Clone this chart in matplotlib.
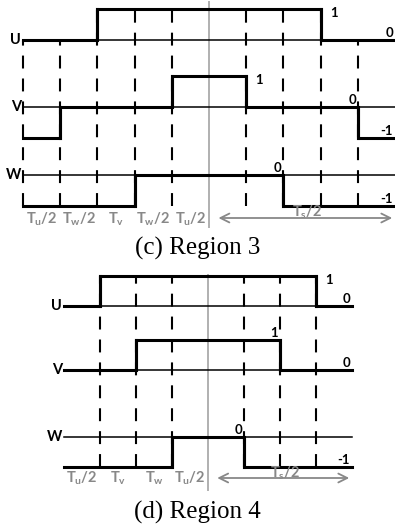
import matplotlib
matplotlib.use("Agg")
import matplotlib.pyplot as plt

plt.rcParams["font.family"] = ["Lato", "DejaVu Sans"]
plt.rcParams["mathtext.fontset"] = "custom"
plt.rcParams["mathtext.rm"] = "Lato:bold"
plt.rcParams["mathtext.it"] = "Lato:bold"
plt.rcParams["mathtext.bf"] = "Lato:bold"

phases = ["U", "V", "W"]

# Region 3: switching states per time slot (10 slots)
r3_U = [0, 0, 1, 1, 1, 1, 1, 1, 0, 0]
r3_V = [-1, 0, 0, 0, 1, 1, 0, 0, 0, -1]
r3_W = [-1, -1, -1, 0, 0, 0, 0, -1, -1, -1]
r3_slot_labels = [r"$T_u/2$", r"$T_w/2$", r"$T_v$", r"$T_w/2$", r"$T_u/2$"]
r3_mid = 5  # slot boundary of the half period

# Region 4: switching states per time slot (8 slots)
r4_U = [0, 1, 1, 1, 1, 1, 1, 0]
r4_V = [0, 0, 1, 1, 1, 1, 0, 0]
r4_W = [-1, -1, -1, 0, 0, -1, -1, -1]
r4_slot_labels = [r"$T_u/2$", r"$T_v$", r"$T_w$", r"$T_u/2$"]
r4_mid = 4

# level annotations: (phase, slot edge, level, text, side of the edge)
r3_notes = [(0, 8, 1, "1", "r"), (0, 10, 0, "0", "l"), (1, 6, 1, "1", "r"),
            (1, 9, 0, "0", "l"), (1, 10, -1, "-1", "l"), (2, 7, 0, "0", "l"),
            (2, 10, -1, "-1", "l")]
r4_notes = [(0, 7, 1, "1", "r"), (0, 8, 0, "0", "l"), (1, 6, 1, "1", "l"),
            (1, 8, 0, "0", "l"), (2, 5, 0, "0", "l"), (2, 8, -1, "-1", "l")]

GRAY = "#888888"
DASH = (0, (6.2, 4.8))


def steps(levels):
    xs, ys = [], []
    for i, v in enumerate(levels):
        xs += [i, i + 1]
        ys += [v, v]
    return xs, ys


def panel(ax, sigs, rows, mid, slot_labels, notes, dashed_from, label_x,
          label_y, arrow_y, gray_span):
    n = len(sigs[0])
    for name, sig, off in zip(phases, sigs, rows):
        ax.plot([0, n], [off, off], color="black", lw=1.1, zorder=2)
        xs, ys = steps(sig)
        ax.plot(xs, [y + off for y in ys], color="black", lw=2.2,
                solid_joinstyle="miter", zorder=3)
        ax.text(label_x, off, name, ha="right", va="center",
                fontsize=10.5, fontweight="bold")

    # slot boundaries
    for k in range(dashed_from, n):
        if k == mid:
            continue
        u = sigs[0]
        top = max(u[max(k - 1, 0)], u[k]) + rows[0]
        bot = rows[2] - 1
        ax.plot([k, k], [bot, top], color="black", lw=1.5,
                linestyle=DASH, zorder=1)
        if k > 0:
            for sig, off in zip(sigs, rows):
                a, b = sig[k - 1], sig[k]
                if a != b:
                    ax.plot([k, k], [a + off, b + off], color="black",
                            lw=2.2, zorder=3)
    ax.plot([mid, mid], gray_span, color="#b0b0b0", lw=1.4, zorder=0)

    for ph, k, lvl, txt, side in notes:
        off = rows[ph]
        if side == "r":
            ax.text(k + 0.25, lvl + off - 0.12, txt, ha="left", va="center",
                    fontsize=9.5, fontweight="bold")
        else:
            ax.text(k - 0.05, lvl + off + 0.03, txt, ha="right",
                    va="bottom", fontsize=9.5, fontweight="bold")

    for i, s in enumerate(slot_labels):
        ax.text(i + 0.5, label_y, s, ha="center", va="center",
                fontsize=10.5, color=GRAY)
    ax.annotate("", xy=(n, arrow_y), xytext=(mid + 0.18, arrow_y),
                arrowprops=dict(arrowstyle="<->", color=GRAY, lw=1.3,
                                mutation_scale=16))
    ax.text((mid + n) / 2 + 0.15, arrow_y + 0.17, r"$T_s/2$", ha="center",
            va="center", fontsize=10.5, color=GRAY)
    ax.axis("off")


fig = plt.figure(figsize=(3.95, 5.30), dpi=100)

# region 3 panel: 37.2 px per slot, 31 px per level
ax3 = fig.add_axes([0, 1 - 232 / 530, 1, 232 / 530])
ax3.set_xlim(-23 / 37.2, 10)
ax3.set_ylim(-(232 - 40) / 31, 40 / 31)
panel(ax3, [r3_U, r3_V, r3_W], [0, -67 / 31, -135 / 31], r3_mid,
      r3_slot_labels, r3_notes, 0, -0.05, -179 / 31, -178 / 31,
      [38 / 31, -187 / 31])

# region 4 panel: 36 px per slot, 30 px per level
ax4 = fig.add_axes([0, 1 - 500 / 530, 1, 240 / 530])
ax4.set_xlim(-64 / 36, (395 - 64) / 36)
ax4.set_ylim(-(500 - 306) / 30, 46 / 30)
panel(ax4, [r4_U, r4_V, r4_W], [0, -64 / 30, -131 / 30], r4_mid,
      r4_slot_labels, r4_notes, 1, -0.05, -172 / 30, -172 / 30,
      [31 / 30, -184 / 30])

fig.text(0.5, 1 - 248 / 530, "(c) Region 3", ha="center", va="center",
         fontsize=18, family="Liberation Serif")
fig.text(0.5, 1 - 512 / 530, "(d) Region 4", ha="center", va="center",
         fontsize=18, family="Liberation Serif")

fig.savefig("out.png", dpi=100)
